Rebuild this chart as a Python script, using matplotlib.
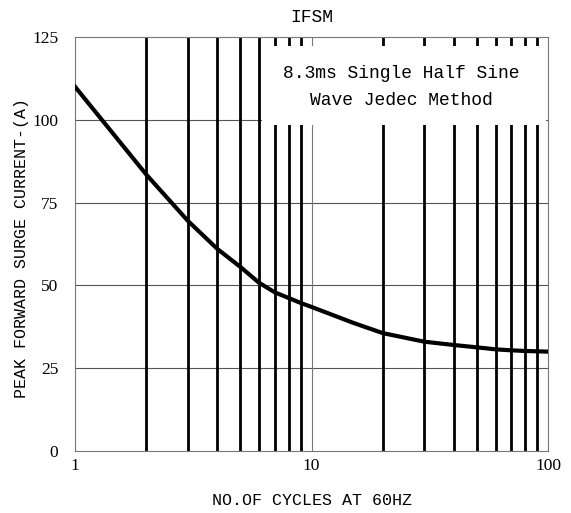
import matplotlib
matplotlib.use("Agg")
import matplotlib.pyplot as plt
from matplotlib.patches import Rectangle

# curve
cycles = [1, 2, 3, 4, 5, 6, 7, 8, 9, 10, 15, 20, 30, 40, 50, 60, 70, 80, 90, 100]
current = [110, 83.5, 69.5, 61, 55.6, 50.8, 47.9, 46.2, 44.7, 43.5, 38.7, 35.6,
           33, 32, 31.3, 30.7, 30.4, 30.2, 30.1, 30]

y_ticks = [0, 25, 50, 75, 100, 125]
x_ticks = [1, 10, 100]
thick_lines = [2, 3, 4, 5, 6, 7, 8, 9, 20, 30, 40, 50, 60, 70, 80, 90]

mono = "Liberation Mono"
serif = "Liberation Serif"

fig = plt.figure(figsize=(5.71, 5.13), dpi=100)
ax = fig.add_axes([75/571, 62/513, 473/571, 414/513])
ax.set_xscale("log")
ax.set_xlim(1, 100)
ax.set_ylim(0, 125)

for y in y_ticks[1:-1]:
    ax.axhline(y, color="#555555", lw=0.8, zorder=1)
for x in thick_lines:
    ax.axvline(x, color="black", lw=2.0, zorder=1)
ax.axvline(10, color="#777777", lw=0.8, zorder=1)

# white box with the test condition
ax.add_patch(Rectangle((0.395, 0.787), 0.601, 0.191, transform=ax.transAxes,
                       facecolor="white", edgecolor="none", zorder=2))
ax.text(0.69, 0.912, "8.3ms Single Half Sine", transform=ax.transAxes,
        ha="center", va="center", fontsize=13, family=mono, zorder=3)
ax.text(0.69, 0.847, "Wave Jedec Method", transform=ax.transAxes,
        ha="center", va="center", fontsize=13, family=mono, zorder=3)

ax.plot(cycles, current, color="black", lw=3, zorder=4, solid_joinstyle="round")

ax.set_xticks(x_ticks)
ax.set_xticklabels([str(v) for v in x_ticks], family=serif, fontsize=12.5)
ax.xaxis.set_minor_locator(matplotlib.ticker.NullLocator())
ax.set_yticks(y_ticks)
ax.set_yticklabels([str(v) for v in y_ticks], family=serif, fontsize=12.5)
ax.tick_params(axis="both", length=0)
ax.tick_params(axis="x", pad=5)
ax.tick_params(axis="y", pad=12)

for s in ax.spines.values():
    s.set_color("#777777")
    s.set_linewidth(0.8)

ax.set_title("IFSM", family=mono, fontsize=13, pad=11)
ax.set_ylabel("PEAK FORWARD SURGE CURRENT-(A)", family=mono, fontsize=12)
ax.yaxis.set_label_coords(-0.097, 0.49)
ax.set_xlabel("NO.OF CYCLES AT 60HZ", family=mono, fontsize=12)
ax.xaxis.set_label_coords(0.5, -0.101)

fig.savefig("out.png", dpi=100)
